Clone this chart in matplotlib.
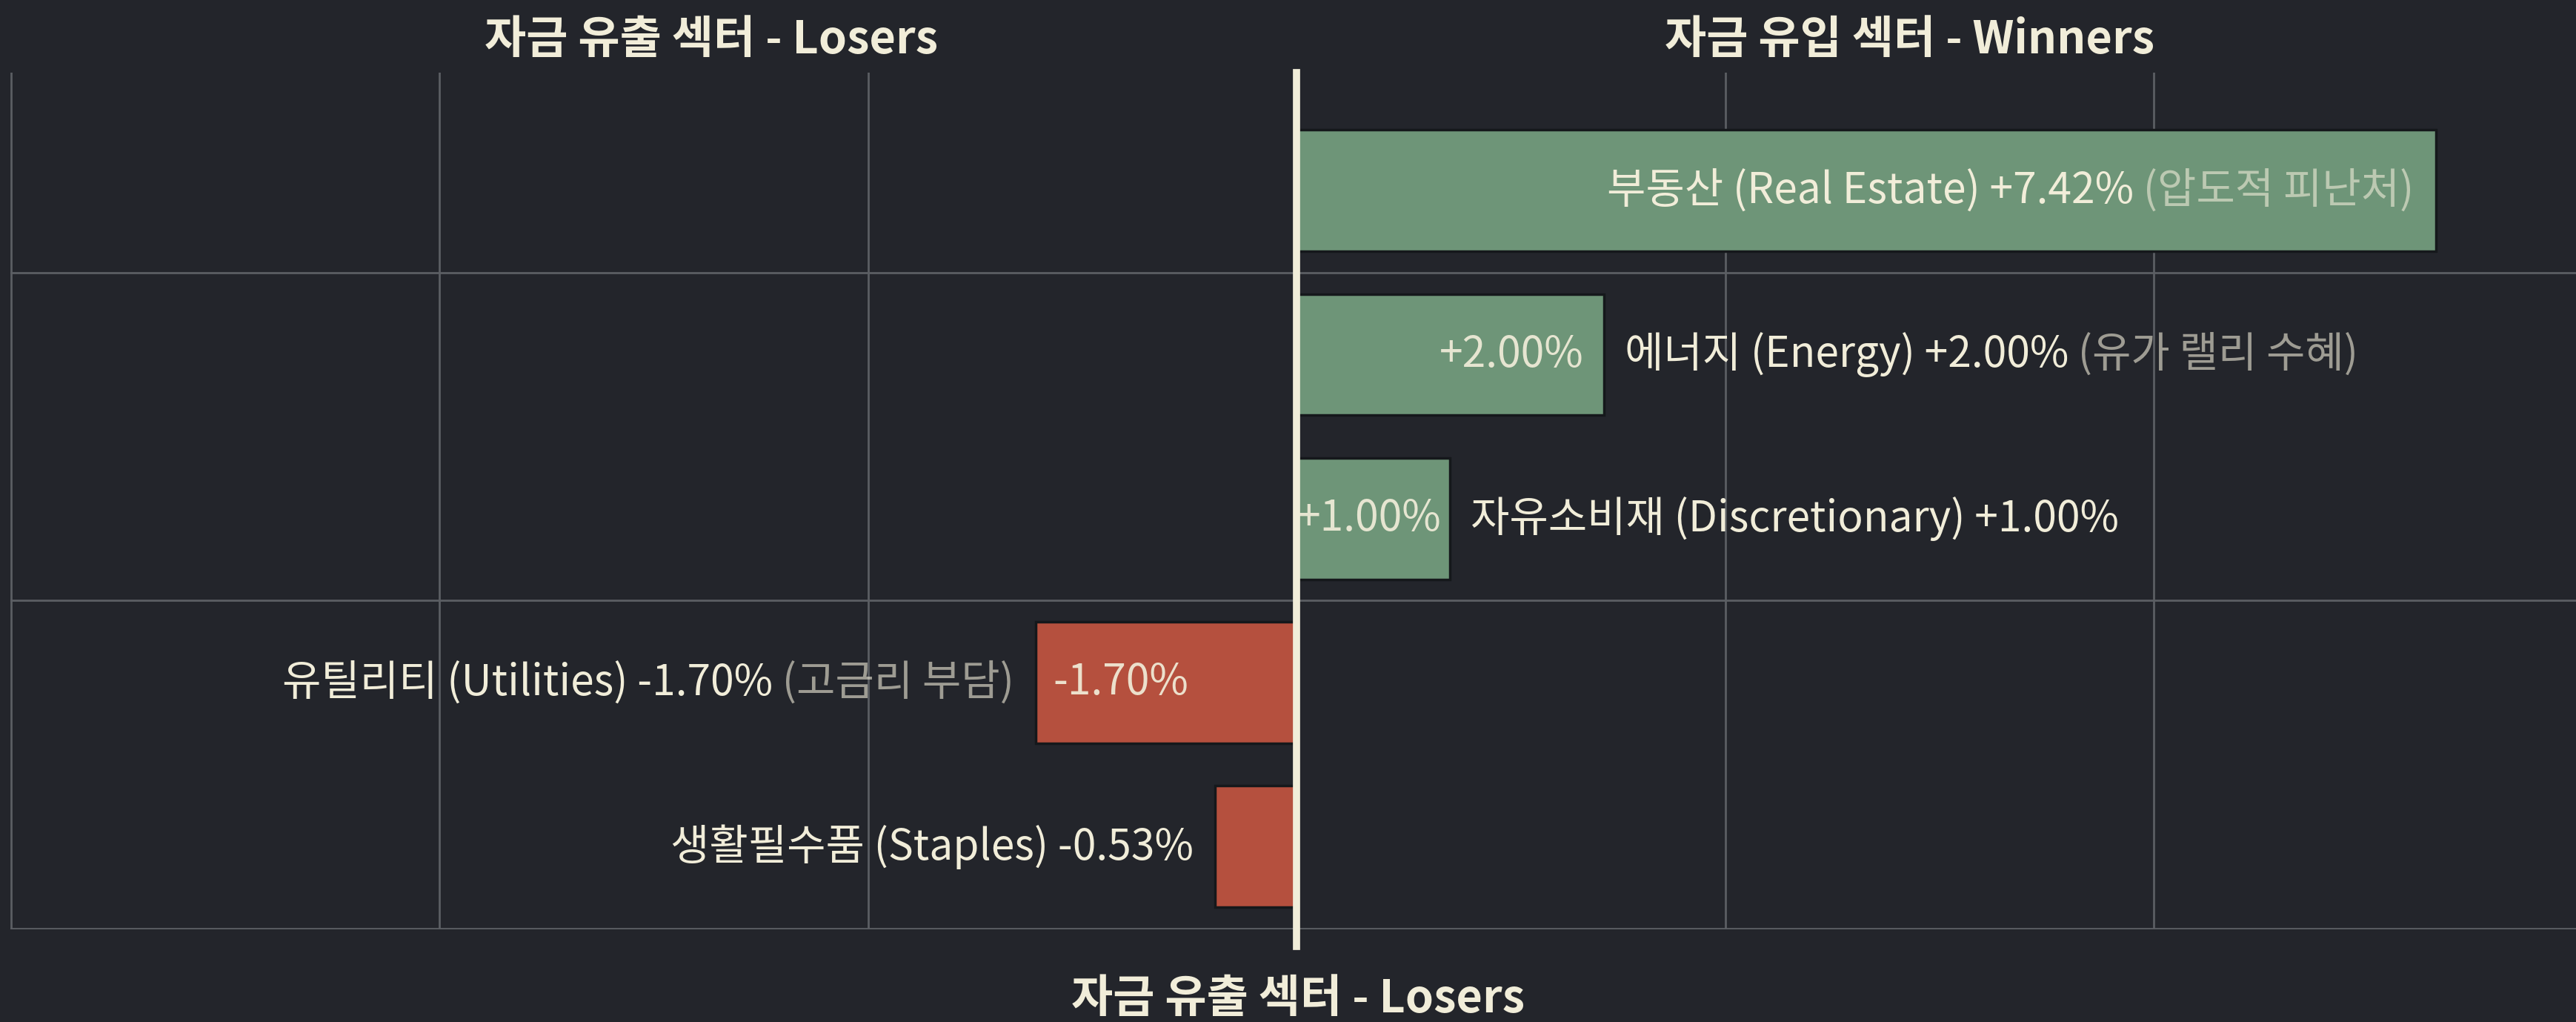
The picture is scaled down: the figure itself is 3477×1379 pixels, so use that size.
import matplotlib.pyplot as plt

# data
sectors = ["부동산 (Real Estate)", "에너지 (Energy)", "자유소비재 (Discretionary)",
           "유틸리티 (Utilities)", "생활필수품 (Staples)"]
changes = [7.42, 2.00, 1.00, -1.70, -0.53]
notes = ["(압도적 피난처)", "(유가 랠리 수혜)", "", "(고금리 부담)", ""]
title_out = "자금 유출 섹터 - Losers"
title_in = "자금 유입 섹터 - Winners"

BG = "#23252b"
GREEN = "#6e9578"
RED = "#b5503e"
CREAM = "#f1edd9"
GRID = "#5b5e63"

plt.rcParams['font.family'] = ['Noto Sans CJK KR', 'DejaVu Sans']

W, H = 3477, 1379
fig = plt.figure(figsize=(W / 100, H / 100), dpi=100, facecolor=BG)
# axes placed in pixels: left edge on the first gridline, top 98, bottom 1253
ax = fig.add_axes([14 / W, 1 - 1254 / H, 1 - 14 / W, (1254 - 98) / H])
ax.set_facecolor(BG)

step = 2.79
ax.set_xlim(-3 * step - 0.005, 8.33)
ax.set_ylim(4.505, -0.72)
ax.set_xticks([-3 * step, -2 * step, -step, 0, step, 2 * step])
ax.set_yticks([0.5, 2.5, 4.5])
ax.grid(True, color=GRID, lw=2)
ax.set_axisbelow(True)
ax.tick_params(left=False, bottom=False, labelleft=False, labelbottom=False)
for s in ax.spines.values():
    s.set_visible(False)

ypos = list(range(len(changes)))
colors = [GREEN if v > 0 else RED for v in changes]
ax.barh(ypos, changes, height=0.74, color=colors, edgecolor="#15181b", lw=2.5, zorder=2)

# zero line
ax.axvline(0, ymin=-0.02, ymax=1, color=CREAM, lw=7, clip_on=False, zorder=5)

fs = 41
for i, (name, v, note) in enumerate(zip(sectors, changes, notes)):
    label = f"{name} {v:+.2f}%"
    value = f"{v:+.2f}%"
    if i == 0:
        # whole label inside the long bar
        t = ax.annotate(" " + note, xy=(v, i), xytext=(-30, 0), textcoords="offset pixels",
                        ha="right", va="center", color=CREAM, alpha=0.6, fontsize=fs, zorder=6)
        ax.annotate(label, xy=(0, 0.5), xycoords=t, ha="right", va="center",
                    color=CREAM, fontsize=fs, zorder=6)
    elif v > 0:
        ax.annotate(value, xy=(v, i), xytext=(-12 if v < 1.5 else -27, 0), textcoords="offset pixels",
                    ha="right", va="center", color=CREAM, alpha=0.92, fontsize=fs, zorder=6)
        t = ax.annotate(label, xy=(v, i), xytext=(28, 0), textcoords="offset pixels",
                        ha="left", va="center", color=CREAM, fontsize=fs, zorder=6)
        if note:
            ax.annotate(" " + note, xy=(1, 0.5), xycoords=t, ha="left", va="center",
                        color=CREAM, alpha=0.6, fontsize=fs, zorder=6)
    else:
        if note:
            t = ax.annotate(" " + note, xy=(v, i), xytext=(-29, 0), textcoords="offset pixels",
                            ha="right", va="center", color=CREAM, alpha=0.6, fontsize=fs, zorder=6)
            ax.annotate(label, xy=(0, 0.5), xycoords=t, ha="right", va="center",
                        color=CREAM, fontsize=fs, zorder=6)
            ax.annotate(value, xy=(v, i), xytext=(24, 0), textcoords="offset pixels",
                        ha="left", va="center", color=CREAM, alpha=0.92, fontsize=fs, zorder=6)
        else:
            ax.annotate(label, xy=(v, i), xytext=(-29, 0), textcoords="offset pixels",
                        ha="right", va="center", color=CREAM, fontsize=fs, zorder=6)

fig.text(960 / W, 1 - 54 / H, title_out, ha="center", va="center",
         color=CREAM, fontsize=44, fontweight="bold")
fig.text(2577 / W, 1 - 54 / H, title_in, ha="center", va="center",
         color=CREAM, fontsize=44, fontweight="bold")
fig.text(1752 / W, 1 - 1348 / H, title_out, ha="center", va="center",
         color=CREAM, fontsize=44, fontweight="bold")

fig.savefig("out.png", dpi=100, facecolor=BG)
